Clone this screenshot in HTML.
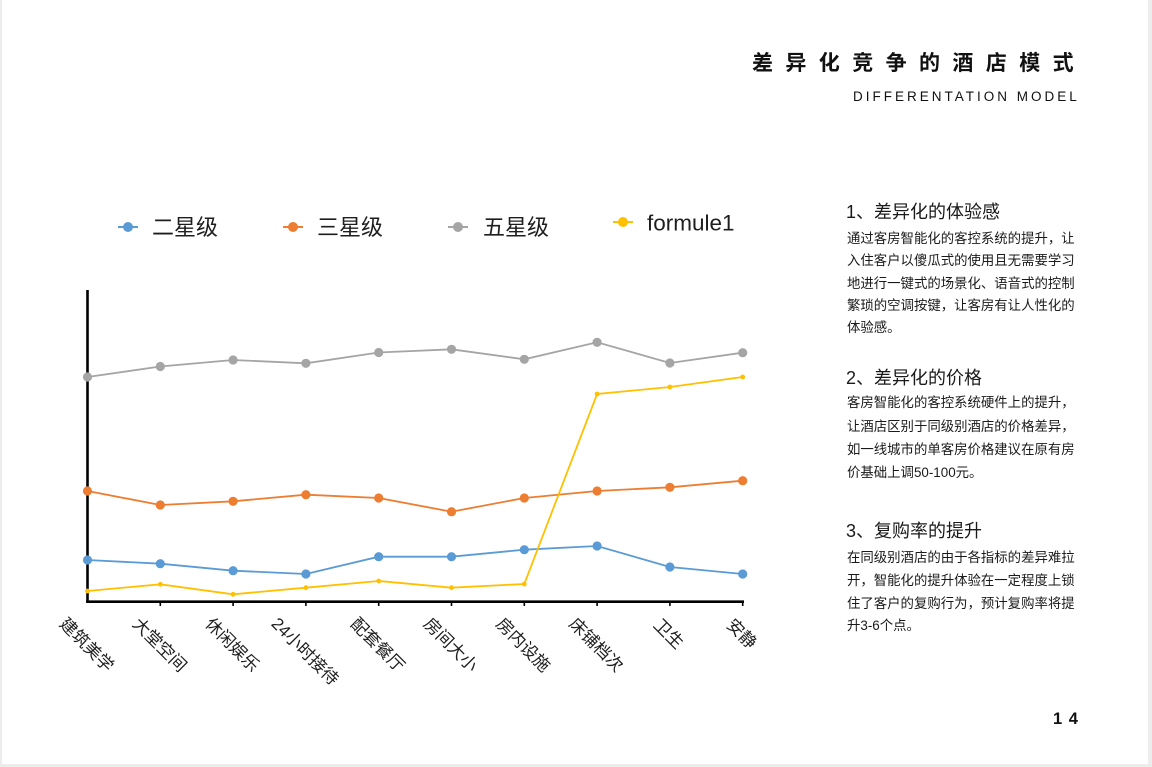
<!DOCTYPE html>
<html><head><meta charset="utf-8">
<style>
html,body{margin:0;padding:0;background:#fff;}
body{width:1152px;height:767px;position:relative;overflow:hidden;font-family:"Liberation Sans","Noto Sans CJK SC",sans-serif;color:#1e1e1e;}
.abs{position:absolute;white-space:nowrap;}
.title{left:752px;top:50px;font-size:21px;line-height:28px;letter-spacing:12.4px;font-weight:bold;color:#111;}
.sub{left:853px;top:89px;font-size:13.5px;line-height:16px;letter-spacing:3px;color:#111;}
.h{font-size:18px;line-height:24px;left:846px;color:#1a1a1a;}
.b{font-size:13.4px;line-height:18px;left:847px;color:#1a1a1a;}
.pn{left:1053px;top:709px;font-size:16.5px;line-height:20px;font-weight:bold;letter-spacing:1px;color:#111;}
</style></head><body>
<div class="abs" style="left:0;top:0;width:2px;height:767px;background:#ececec;"></div>
<div class="abs" style="left:1148px;top:0;width:4px;height:767px;background:#ededed;"></div>
<div class="abs" style="left:0;top:764px;width:1152px;height:3px;background:#ececec;"></div>

<div class="abs title">差异化竞争的酒店模式</div>
<div class="abs sub">DIFFERENTATION MODEL</div>

<div class="abs h" style="top:200px;">1、差异化的体验感</div>
<div class="abs b" style="top:229.5px;">通过客房智能化的客控系统的提升，让</div>
<div class="abs b" style="top:252px;">入住客户以傻瓜式的使用且无需要学习</div>
<div class="abs b" style="top:274.5px;">地进行一键式的场景化、语音式的控制</div>
<div class="abs b" style="top:297px;">繁琐的空调按键，让客房有让人性化的</div>
<div class="abs b" style="top:319px;">体验感。</div>

<div class="abs h" style="top:365.5px;">2、差异化的价格</div>
<div class="abs b" style="top:394px;">客房智能化的客控系统硬件上的提升，</div>
<div class="abs b" style="top:417.5px;">让酒店区别于同级别酒店的价格差异，</div>
<div class="abs b" style="top:440.5px;">如一线城市的单客房价格建议在原有房</div>
<div class="abs b" style="top:463.5px;">价基础上调50-100元。</div>

<div class="abs h" style="top:519px;">3、复购率的提升</div>
<div class="abs b" style="top:549px;">在同级别酒店的由于各指标的差异难拉</div>
<div class="abs b" style="top:571.5px;">开，智能化的提升体验在一定程度上锁</div>
<div class="abs b" style="top:594.5px;">住了客户的复购行为，预计复购率将提</div>
<div class="abs b" style="top:617px;">升3-6个点。</div>

<div class="abs pn">1 4</div>

<svg class="abs" style="left:0;top:0;" width="1152" height="767" viewBox="0 0 1152 767" xmlns="http://www.w3.org/2000/svg">
<g font-family="Liberation Sans, Noto Sans CJK SC, sans-serif" fill="#1e1e1e">
  <!-- legend -->
  <line x1="118" y1="227" x2="138" y2="227" stroke="#5B9BD5" stroke-width="2"/>
  <circle cx="128" cy="227" r="5" fill="#5B9BD5"/>
  <text x="152" y="235" font-size="22">二星级</text>
  <line x1="283" y1="227" x2="303" y2="227" stroke="#ED7D31" stroke-width="2"/>
  <circle cx="293" cy="227" r="5" fill="#ED7D31"/>
  <text x="317" y="235" font-size="22">三星级</text>
  <line x1="448" y1="227" x2="468" y2="227" stroke="#A5A5A5" stroke-width="2"/>
  <circle cx="458" cy="227" r="5" fill="#A5A5A5"/>
  <text x="483" y="235" font-size="22">五星级</text>
  <line x1="613" y1="222" x2="633" y2="222" stroke="#FFC000" stroke-width="2"/>
  <circle cx="623" cy="222" r="5" fill="#FFC000"/>
  <text x="647" y="230.5" font-size="22.5">formule1</text>
</g>

<!-- axes -->
<line x1="87.5" y1="290" x2="87.5" y2="603" stroke="#000" stroke-width="2.6"/>
<line x1="86.2" y1="601.7" x2="744" y2="601.7" stroke="#000" stroke-width="2.6"/>
<g stroke="#000" stroke-width="1.6">
  <line x1="160.3" y1="601" x2="160.3" y2="606"/>
  <line x1="233.1" y1="601" x2="233.1" y2="606"/>
  <line x1="305.9" y1="601" x2="305.9" y2="606"/>
  <line x1="378.7" y1="601" x2="378.7" y2="606"/>
  <line x1="451.5" y1="601" x2="451.5" y2="606"/>
  <line x1="524.3" y1="601" x2="524.3" y2="606"/>
  <line x1="597.1" y1="601" x2="597.1" y2="606"/>
  <line x1="669.9" y1="601" x2="669.9" y2="606"/>
  <line x1="742.7" y1="601" x2="742.7" y2="606"/>
</g>

<!-- series: blue -->
<polyline fill="none" stroke="#5B9BD5" stroke-width="1.8" points="87.5,560 160.3,563.7 233.1,570.7 305.9,574 378.7,556.7 451.5,556.7 524.3,549.7 597.1,546 669.9,567 742.7,574"/>
<g fill="#5B9BD5">
<circle cx="87.5" cy="560" r="4.6"/><circle cx="160.3" cy="563.7" r="4.6"/><circle cx="233.1" cy="570.7" r="4.6"/><circle cx="305.9" cy="574" r="4.6"/><circle cx="378.7" cy="556.7" r="4.6"/><circle cx="451.5" cy="556.7" r="4.6"/><circle cx="524.3" cy="549.7" r="4.6"/><circle cx="597.1" cy="546" r="4.6"/><circle cx="669.9" cy="567" r="4.6"/><circle cx="742.7" cy="574" r="4.6"/>
</g>
<!-- orange -->
<polyline fill="none" stroke="#ED7D31" stroke-width="1.8" points="87.5,491 160.3,505 233.1,501.3 305.9,494.7 378.7,498 451.5,511.7 524.3,498 597.1,491 669.9,487.3 742.7,480.7"/>
<g fill="#ED7D31">
<circle cx="87.5" cy="491" r="4.6"/><circle cx="160.3" cy="505" r="4.6"/><circle cx="233.1" cy="501.3" r="4.6"/><circle cx="305.9" cy="494.7" r="4.6"/><circle cx="378.7" cy="498" r="4.6"/><circle cx="451.5" cy="511.7" r="4.6"/><circle cx="524.3" cy="498" r="4.6"/><circle cx="597.1" cy="491" r="4.6"/><circle cx="669.9" cy="487.3" r="4.6"/><circle cx="742.7" cy="480.7" r="4.6"/>
</g>
<!-- gray -->
<polyline fill="none" stroke="#A5A5A5" stroke-width="1.8" points="87.5,377 160.3,366.5 233.1,360 305.9,363.3 378.7,352.5 451.5,349.3 524.3,359.3 597.1,342.3 669.9,363 742.7,352.7"/>
<g fill="#A5A5A5">
<circle cx="87.5" cy="377" r="4.6"/><circle cx="160.3" cy="366.5" r="4.6"/><circle cx="233.1" cy="360" r="4.6"/><circle cx="305.9" cy="363.3" r="4.6"/><circle cx="378.7" cy="352.5" r="4.6"/><circle cx="451.5" cy="349.3" r="4.6"/><circle cx="524.3" cy="359.3" r="4.6"/><circle cx="597.1" cy="342.3" r="4.6"/><circle cx="669.9" cy="363" r="4.6"/><circle cx="742.7" cy="352.7" r="4.6"/>
</g>
<!-- yellow -->
<polyline fill="none" stroke="#FFC000" stroke-width="1.8" points="87.5,591 160.3,584.3 233.1,594.3 305.9,587.7 378.7,581 451.5,587.7 524.3,584 597.1,394 669.9,387 742.7,377"/>
<g fill="#FFC000">
<circle cx="87.5" cy="591" r="2.4"/><circle cx="160.3" cy="584.3" r="2.4"/><circle cx="233.1" cy="594.3" r="2.4"/><circle cx="305.9" cy="587.7" r="2.4"/><circle cx="378.7" cy="581" r="2.4"/><circle cx="451.5" cy="587.7" r="2.4"/><circle cx="524.3" cy="584" r="2.4"/><circle cx="597.1" cy="394" r="2.4"/><circle cx="669.9" cy="387" r="2.4"/><circle cx="742.7" cy="377" r="2.4"/>
</g>

<!-- category labels -->
<g font-family="Liberation Sans, Noto Sans CJK SC, sans-serif" font-size="17" fill="#1e1e1e" text-anchor="middle" dominant-baseline="central">
  <text x="86.5" y="645" transform="rotate(45 86.5 645)">建筑美学</text>
  <text x="159.5" y="645" transform="rotate(45 159.5 645)">大堂空间</text>
  <text x="232" y="645" transform="rotate(45 232 645)">休闲娱乐</text>
  <text x="305" y="651.5" transform="rotate(45 305 651.5)">24小时接待</text>
  <text x="377.5" y="645" transform="rotate(45 377.5 645)">配套餐厅</text>
  <text x="450.5" y="645" transform="rotate(45 450.5 645)">房间大小</text>
  <text x="523" y="645" transform="rotate(45 523 645)">房内设施</text>
  <text x="596" y="645" transform="rotate(45 596 645)">床铺档次</text>
  <text x="668.5" y="634" transform="rotate(45 668.5 634)">卫生</text>
  <text x="741.5" y="634" transform="rotate(45 741.5 634)">安静</text>
</g>
</svg>
</body></html>
